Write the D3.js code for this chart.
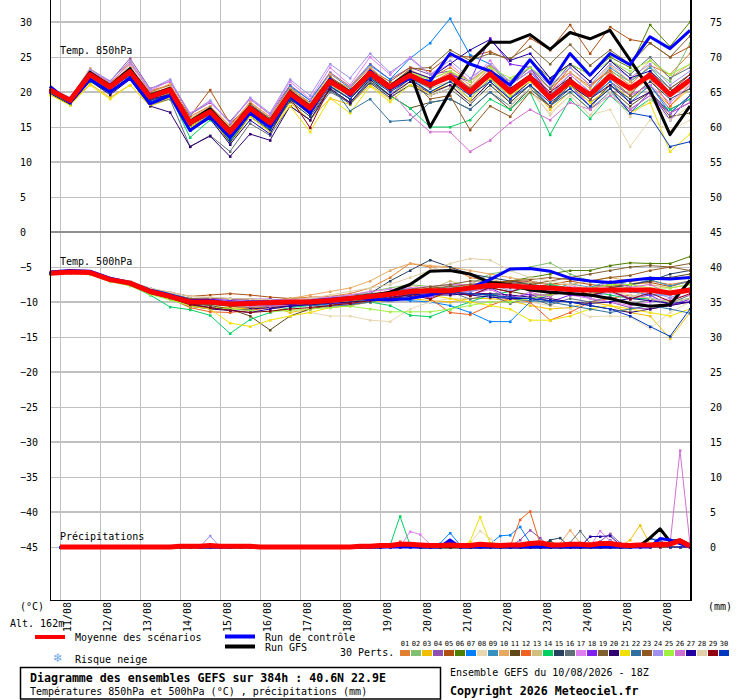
<!DOCTYPE html>
<html>
<head>
<meta charset="utf-8">
<script src="https://cdn.jsdelivr.net/npm/d3@7"></script>
<style>
body { margin: 0; background: #fff; }
svg { display: block; font-family: "DejaVu Sans Mono", monospace; }
</style>
</head>
<body>
<svg width="740" height="700"></svg>
<script>
// GEFS ensemble diagram - 850hPa / 500hPa temps + precip, 12h steps for temps, 6h for precip
var dateLabels = ["11/08", "12/08", "13/08", "14/08", "15/08", "16/08", "17/08", "18/08",
                  "19/08", "20/08", "21/08", "22/08", "23/08", "24/08", "25/08", "26/08"];
var dateHours = [6, 30, 54, 78, 102, 126, 150, 174, 198, 222, 246, 270, 294, 318, 342, 366];
var leftTicks = [30, 25, 20, 15, 10, 5, 0, -5, -10, -15, -20, -25, -30, -35, -40, -45];
var rightTicks = [75, 70, 65, 60, 55, 50, 45, 40, 35, 30, 25, 20, 15, 10, 5, 0];

var pertNames = ["01","02","03","04","05","06","07","08","09","10","11","12","13","14","15",
                 "16","17","18","19","20","21","22","23","24","25","26","27","28","29","30"];
var pertColors = ["#e08030","#80c070","#f0c000","#9050b0","#b05010","#508000","#0080ff","#e8d8b0",
                  "#3890c0","#e8a860","#604818","#f06020","#d0c080","#00d060","#284060","#607078",
                  "#e080f0","#8020f0","#806030","#300070","#f0e000","#3070a0","#905820","#a090f0",
                  "#a0f040","#d070d0","#2000a0","#e0d0a8","#900010","#0038c0"];

// T850 (deg C), every 12h from +0h
var t850Mean = [20.3,18.8,22.5,20.7,22.9,19.3,20.3,15.6,17.2,14.3,17.7,15.6,19.8,17.7,21.5,19.8,22.7,20.7,22.4,21.0,22.2,20.0,22.6,20.0,22.1,19.1,21.5,19.6,22.3,20.5,22.4,19.6,21.7];
var t850Ctrl = [20.8,18.5,21.8,20.0,22.0,18.3,19.5,14.5,16.5,13.5,17.0,15.0,19.5,17.0,21.8,19.5,23.0,20.5,22.0,21.5,25.5,24.0,23.0,21.0,24.6,21.2,25.5,22.4,25.5,23.9,27.9,26.2,28.8];
var t850Gfs = [20.4,18.9,22.8,20.9,23.3,19.5,20.5,15.8,17.6,14.5,17.9,15.8,20.0,17.9,21.7,20.0,22.9,20.9,22.8,15.0,20.0,24.3,27.1,27.1,28.2,26.1,28.5,27.6,28.8,24.6,20.3,13.9,18.0];
var t850Perts = [
  [20.0,18.6,22.9,21.2,24.2,20.2,21.0,16.5,18.0,15.2,18.5,16.5,20.8,18.2,22.0,20.5,23.5,21.0,23.0,22.0,23.5,21.5,23.8,21.0,23.0,20.5,22.8,20.8,23.2,21.0,23.8,22.5,25.5],
  [19.8,18.4,22.0,20.4,22.5,19.0,20.0,15.0,16.8,13.8,17.4,15.0,19.5,17.0,21.0,19.0,22.5,20.2,22.8,21.5,22.0,19.5,21.8,19.2,21.5,18.8,22.0,19.5,23.0,21.5,23.5,21.5,27.0],
  [19.6,18.2,21.2,19.2,21.0,18.0,19.0,14.8,16.5,13.0,16.5,14.3,18.5,16.0,19.1,18.2,21.0,19.0,21.5,20.0,21.0,18.5,21.5,18.5,21.0,17.5,20.0,17.5,21.5,19.0,20.8,18.0,20.5],
  [20.2,18.9,23.3,21.5,24.8,20.5,21.5,16.8,18.5,15.8,19.0,16.8,21.0,18.8,22.8,20.8,24.0,21.8,23.5,22.5,23.0,20.5,22.0,19.8,22.5,19.0,21.0,19.0,21.5,19.5,21.0,17.5,19.0],
  [20.4,19.0,23.0,21.3,23.5,20.0,21.0,16.5,20.3,15.5,18.0,16.0,20.5,18.5,22.0,20.0,23.2,21.5,23.5,23.0,25.2,25.0,25.8,24.5,27.7,26.0,29.6,25.5,29.3,27.5,27.0,25.0,26.5],
  [20.1,18.7,22.3,20.5,22.7,19.0,20.2,15.2,17.0,14.0,17.2,15.3,19.5,17.2,21.0,19.0,22.0,20.3,22.5,21.0,22.0,20.5,23.0,21.5,24.5,22.0,24.0,22.5,25.0,23.5,29.6,26.5,30.0],
  [20.0,18.5,22.2,20.4,22.6,19.2,20.1,15.6,17.5,14.6,18.2,16.2,20.8,18.8,22.6,20.6,23.8,21.8,24.8,27.0,30.5,25.3,24.0,21.0,23.0,19.5,22.0,19.0,21.5,18.5,21.0,17.0,19.5],
  [20.5,19.0,22.5,21.0,23.0,19.8,20.5,16.0,17.6,14.5,17.8,16.0,20.0,18.0,21.0,19.5,22.0,20.0,21.5,19.5,21.0,19.0,21.0,18.5,20.0,17.0,19.5,16.7,17.5,12.2,16.0,14.5,16.0],
  [20.2,18.8,22.6,20.8,23.2,19.5,20.6,15.8,17.0,14.2,17.5,15.4,19.6,17.3,21.3,19.6,22.6,20.4,22.0,20.0,21.5,19.0,22.0,19.5,22.0,19.5,22.5,20.0,23.5,21.5,23.5,20.5,22.5],
  [20.6,19.1,23.4,21.0,24.5,19.8,21.2,16.2,18.0,15.0,18.6,16.4,20.6,18.4,22.6,20.8,23.6,21.0,23.2,21.8,23.0,21.0,24.0,21.5,23.5,21.0,22.8,20.5,23.8,21.5,24.5,22.0,24.0],
  [20.0,18.6,22.0,20.3,22.5,18.8,19.8,15.0,16.6,13.5,17.0,14.8,19.0,16.8,20.5,18.5,21.5,19.5,17.7,18.5,19.0,17.5,20.0,17.5,20.5,18.0,21.0,18.5,20.5,18.0,20.0,16.5,17.0],
  [20.3,18.8,22.4,20.6,22.8,19.2,20.2,15.4,17.2,14.4,17.6,15.6,19.7,17.6,21.2,19.4,22.4,20.4,22.8,21.2,22.8,20.6,23.5,20.5,22.5,20.0,23.5,21.0,23.0,20.0,22.0,18.0,21.0],
  [20.6,19.2,22.8,21.0,23.8,19.6,20.8,16.2,17.6,14.8,18.0,16.0,19.8,18.0,21.8,20.3,22.4,20.3,22.2,20.5,21.5,20.0,22.5,20.5,22.0,19.5,21.5,19.8,22.0,20.0,22.0,19.5,21.0],
  [19.8,18.3,21.5,19.8,22.2,18.5,19.5,13.5,16.0,13.0,16.8,14.8,19.0,17.0,21.0,19.0,22.0,19.5,17.7,15.0,15.0,16.0,19.0,17.5,20.0,13.9,19.0,16.2,19.5,17.0,19.0,17.5,19.0],
  [20.2,18.7,22.4,20.5,22.4,18.8,19.6,14.6,16.4,12.8,16.5,14.5,18.7,16.5,20.3,18.3,21.3,19.2,21.0,19.5,20.5,18.2,21.0,18.5,21.0,18.0,20.5,18.0,21.0,19.0,21.5,19.0,20.5],
  [20.0,18.5,22.0,20.2,22.0,18.2,19.0,12.2,13.8,11.5,15.5,13.8,18.0,16.0,20.0,18.5,21.5,19.5,22.0,20.5,22.5,20.5,23.0,21.0,23.5,20.5,24.0,21.5,24.5,22.5,25.0,22.0,23.5],
  [20.5,19.1,23.0,21.4,24.0,20.2,21.6,17.0,18.6,15.6,19.0,16.8,21.5,19.0,23.5,21.0,25.0,22.5,25.0,22.5,24.0,21.5,24.5,21.0,23.0,20.0,22.5,20.0,22.0,19.5,21.0,18.5,21.0],
  [20.2,18.8,22.7,20.9,23.2,19.5,20.6,15.9,17.5,14.8,18.0,16.0,20.2,18.0,21.8,20.0,23.0,20.8,22.5,21.0,22.5,21.5,27.7,24.0,23.5,19.5,21.0,18.0,20.5,17.0,20.0,16.0,19.5],
  [20.4,18.9,22.6,20.8,23.0,19.4,20.4,15.7,17.3,14.4,17.8,15.7,19.9,17.8,21.7,19.9,22.9,20.9,23.3,23.5,26.0,24.5,25.5,24.8,26.5,24.0,26.8,23.8,26.0,24.0,27.0,25.0,28.0],
  [19.8,18.2,21.6,19.6,21.8,18.0,17.1,12.2,13.7,10.8,14.0,13.1,18.0,16.0,20.5,18.5,21.8,19.5,21.5,19.8,21.0,18.5,21.5,19.0,21.5,19.5,21.0,19.0,21.0,18.5,20.0,17.0,18.5],
  [19.6,18.1,21.0,19.0,21.0,18.2,19.2,15.0,16.6,12.5,16.5,14.3,18.0,14.3,19.1,17.0,20.8,18.6,21.0,19.8,21.5,19.0,22.0,19.5,21.5,19.0,21.0,18.5,20.5,17.0,18.5,11.5,14.0],
  [20.1,18.6,22.2,20.5,22.6,19.0,20.0,15.3,16.9,14.0,17.3,15.2,19.4,17.4,21.2,17.3,19.0,15.8,16.0,18.5,19.0,17.5,20.0,18.0,20.5,18.0,20.0,17.5,20.0,17.5,19.5,17.0,19.5],
  [20.3,18.9,22.8,21.0,23.4,19.8,20.6,16.0,17.8,14.8,18.3,16.2,20.3,18.2,22.2,20.2,23.0,20.5,22.0,19.0,19.5,14.6,18.0,16.5,20.0,18.0,21.5,19.0,22.0,19.5,23.0,20.5,22.5],
  [20.6,19.2,23.2,21.6,24.4,20.4,21.8,16.8,18.8,15.6,19.2,17.0,21.8,19.5,24.0,22.0,25.5,22.8,24.8,22.5,24.5,22.0,24.0,21.5,23.5,21.0,23.5,21.0,24.0,22.0,24.0,21.0,23.0],
  [20.2,18.7,22.5,20.6,22.7,19.1,20.2,15.5,17.0,14.0,17.4,15.3,19.5,17.5,21.4,19.7,22.5,20.6,22.8,21.8,23.0,21.5,23.5,22.0,23.5,21.5,24.0,22.5,24.5,23.0,24.5,22.5,24.0],
  [20.0,18.6,22.4,20.7,23.0,19.4,20.3,15.7,17.4,14.5,17.8,15.8,20.0,17.8,21.6,19.8,22.4,20.3,16.8,14.3,14.3,11.5,13.1,15.6,17.5,16.0,18.5,17.5,19.5,17.5,19.5,17.0,18.5],
  [20.1,18.6,22.3,20.5,22.6,19.0,19.6,14.5,16.2,12.5,16.0,14.0,19.2,17.0,21.3,19.5,22.8,20.7,23.0,22.0,24.0,26.0,27.5,24.5,25.5,22.0,24.0,21.5,24.5,22.0,23.0,20.0,22.0],
  [20.4,19.0,22.6,20.9,23.2,19.6,20.6,16.0,17.7,14.7,18.0,15.9,19.6,17.4,21.0,19.3,22.2,20.2,21.8,19.5,20.5,18.5,20.5,18.0,20.5,16.7,19.5,16.7,20.0,16.5,19.0,16.0,18.0],
  [20.3,18.9,22.6,20.8,23.0,19.2,20.0,15.4,16.8,14.0,17.2,15.2,19.2,14.9,20.8,19.0,22.2,20.2,22.0,20.8,22.0,20.0,23.0,20.5,22.5,20.0,22.0,19.5,22.5,20.5,22.5,20.0,22.5],
  [20.0,18.4,22.0,20.0,22.3,18.6,19.6,14.7,16.4,13.2,16.8,14.6,19.0,17.0,20.8,19.0,22.0,20.0,21.8,20.0,21.5,19.5,21.5,19.0,21.0,18.5,20.5,18.0,20.5,17.0,16.5,12.2,12.9]
];

// T500 (deg C), every 12h from +0h
var t500Mean = [-5.9,-5.7,-5.8,-6.8,-7.3,-8.5,-9.2,-10.0,-10.0,-10.3,-10.2,-10.1,-10.0,-10.0,-9.8,-9.5,-9.2,-8.9,-8.5,-8.4,-8.4,-8.0,-7.6,-7.7,-7.9,-8.0,-8.2,-8.3,-8.3,-8.3,-8.3,-8.7,-8.3];
var t500Ctrl = [-5.7,-5.5,-5.6,-6.6,-7.2,-8.3,-9.0,-9.8,-9.8,-10.2,-10.0,-10.0,-10.3,-9.9,-9.6,-9.4,-9.6,-9.7,-9.5,-9.0,-8.3,-8.0,-6.8,-5.3,-5.2,-5.6,-6.6,-7.0,-7.2,-6.9,-6.6,-6.7,-6.5];
var t500Gfs = [-5.8,-5.6,-5.7,-6.7,-7.4,-8.6,-9.3,-10.1,-10.1,-10.4,-10.3,-10.1,-10.1,-10.0,-9.8,-9.4,-9.1,-8.6,-7.5,-5.6,-5.5,-6.0,-7.2,-7.5,-8.3,-8.6,-8.8,-9.0,-9.5,-10.2,-10.6,-10.4,-6.9];
var t500Perts = [
  [-5.8,-5.6,-5.7,-6.7,-7.2,-8.3,-9.0,-9.8,-9.9,-10.4,-10.0,-9.8,-9.5,-9.3,-9.2,-8.8,-8.0,-6.5,-4.5,-5.0,-5.0,-6.5,-7.0,-7.5,-7.8,-8.2,-8.0,-8.5,-8.0,-7.5,-7.0,-7.5,-7.0],
  [-6.0,-5.8,-5.9,-6.9,-7.5,-8.6,-9.4,-10.2,-10.4,-10.6,-10.5,-10.3,-10.1,-9.9,-9.6,-9.0,-8.5,-8.0,-7.5,-7.8,-8.0,-7.5,-6.0,-5.5,-5.0,-4.4,-6.0,-7.0,-7.5,-8.0,-8.5,-8.8,-8.0],
  [-6.0,-5.8,-6.0,-7.0,-7.6,-8.8,-9.6,-10.5,-10.8,-10.8,-11.0,-10.6,-11.5,-11.0,-10.5,-10.2,-10.0,-9.5,-9.5,-9.8,-10.0,-9.5,-9.5,-9.8,-10.5,-11.0,-10.8,-10.0,-10.5,-11.5,-12.0,-15.2,-11.5],
  [-5.9,-5.7,-5.8,-6.8,-7.3,-8.4,-9.0,-9.6,-9.5,-9.6,-9.8,-9.9,-10.2,-10.5,-10.8,-10.5,-10.0,-9.8,-9.5,-9.0,-8.8,-8.5,-8.0,-7.5,-7.0,-7.5,-8.5,-9.5,-10.0,-10.8,-11.0,-10.5,-10.0],
  [-5.8,-5.6,-5.7,-6.6,-7.1,-8.1,-8.6,-9.2,-9.0,-8.8,-9.0,-9.3,-9.5,-9.6,-9.5,-9.3,-9.0,-8.8,-8.5,-8.2,-8.0,-7.8,-7.5,-7.0,-7.2,-7.5,-7.0,-7.5,-7.8,-7.5,-7.2,-7.8,-7.0],
  [-5.9,-5.8,-5.9,-6.9,-7.4,-8.6,-9.3,-10.1,-10.2,-10.5,-10.3,-10.2,-10.0,-10.0,-9.8,-9.6,-9.3,-9.0,-8.8,-8.5,-8.2,-8.0,-7.5,-7.0,-6.5,-6.0,-5.5,-5.5,-4.8,-4.4,-4.5,-4.5,-3.5],
  [-5.8,-5.6,-5.8,-6.7,-7.2,-8.0,-8.8,-9.5,-9.8,-10.0,-10.3,-10.5,-10.6,-10.5,-10.3,-10.0,-9.8,-9.5,-9.8,-10.0,-10.5,-11.5,-12.8,-12.8,-10.0,-9.0,-8.5,-8.0,-8.2,-8.5,-9.0,-9.0,-8.5],
  [-5.7,-5.5,-5.6,-6.5,-7.0,-8.2,-9.0,-9.8,-10.0,-10.3,-10.5,-10.8,-11.0,-11.5,-12.0,-12.0,-12.6,-12.8,-11.0,-10.0,-9.5,-9.5,-9.0,-9.5,-10.0,-10.5,-11.0,-12.1,-12.0,-12.1,-13.8,-11.5,-10.0],
  [-5.9,-5.7,-5.8,-6.8,-7.2,-8.3,-9.0,-9.6,-9.7,-10.0,-10.0,-9.8,-9.8,-9.7,-9.5,-9.2,-9.0,-8.8,-8.0,-8.6,-7.6,-8.3,-7.2,-8.0,-7.5,-8.4,-7.4,-7.9,-7.0,-7.6,-6.8,-7.7,-7.0],
  [-6.0,-5.8,-5.9,-6.9,-7.5,-8.7,-9.4,-10.4,-10.8,-11.0,-10.5,-10.0,-9.5,-9.0,-8.5,-8.0,-7.0,-5.5,-4.5,-4.8,-5.0,-5.5,-6.0,-6.5,-7.0,-7.5,-7.5,-7.0,-6.5,-7.0,-7.5,-8.0,-7.5],
  [-5.8,-5.7,-5.8,-6.8,-7.4,-8.6,-9.4,-10.3,-10.5,-11.0,-12.0,-14.0,-12.0,-11.0,-10.5,-10.0,-9.5,-9.0,-8.5,-8.5,-8.2,-8.0,-8.0,-8.5,-9.0,-9.0,-8.5,-8.0,-7.5,-7.0,-6.5,-6.5,-6.0],
  [-5.9,-5.7,-5.9,-6.9,-7.4,-8.6,-9.5,-10.8,-11.4,-11.5,-11.2,-10.8,-10.5,-10.3,-10.0,-9.5,-9.0,-8.5,-8.5,-9.5,-11.5,-11.8,-10.5,-9.5,-10.0,-12.6,-11.5,-10.0,-9.5,-9.0,-9.5,-10.0,-9.5],
  [-5.8,-5.6,-5.7,-6.7,-7.2,-8.4,-9.1,-9.9,-9.8,-10.0,-9.9,-9.8,-9.6,-9.5,-9.4,-9.2,-8.8,-8.5,-7.6,-8.2,-7.0,-7.8,-6.6,-7.6,-7.2,-8.3,-8.0,-8.9,-8.3,-9.4,-8.2,-8.9,-8.6],
  [-6.0,-5.9,-6.0,-7.0,-7.6,-9.0,-10.7,-11.1,-11.9,-14.5,-12.5,-11.5,-10.8,-10.5,-10.0,-9.8,-10.0,-10.5,-11.9,-12.1,-11.0,-10.0,-9.0,-8.5,-8.0,-7.5,-8.0,-8.5,-9.0,-9.5,-9.5,-10.0,-9.5],
  [-5.9,-5.7,-5.8,-6.8,-7.3,-8.5,-9.2,-10.0,-10.1,-10.3,-10.4,-10.3,-10.2,-10.0,-9.7,-9.3,-8.8,-7.0,-5.5,-4.0,-5.0,-6.0,-6.5,-7.0,-7.5,-7.8,-8.0,-8.2,-8.0,-7.5,-7.0,-6.0,-5.5],
  [-5.9,-5.7,-5.8,-6.8,-7.3,-8.4,-9.1,-9.9,-10.0,-10.2,-10.0,-9.9,-9.8,-9.6,-9.3,-9.0,-8.8,-8.6,-8.0,-9.1,-8.5,-9.6,-9.0,-10.2,-9.4,-10.4,-9.5,-10.0,-9.2,-10.4,-9.6,-10.2,-9.0],
  [-5.9,-5.7,-5.9,-6.9,-7.4,-8.5,-9.2,-9.9,-10.0,-10.2,-10.0,-9.8,-9.7,-9.5,-9.3,-9.0,-8.5,-8.2,-8.0,-7.8,-7.5,-7.5,-7.2,-7.5,-7.8,-8.5,-9.0,-9.5,-10.0,-10.5,-10.0,-9.5,-9.0],
  [-5.8,-5.6,-5.7,-6.7,-7.2,-8.3,-9.0,-9.7,-9.6,-9.8,-9.6,-9.6,-9.8,-10.0,-10.2,-10.3,-10.0,-9.5,-8.6,-9.4,-8.3,-9.0,-8.0,-9.3,-8.9,-10.0,-9.0,-9.2,-8.3,-9.5,-9.0,-10.5,-9.6],
  [-6.0,-5.8,-5.9,-6.9,-7.4,-8.6,-9.3,-10.2,-10.3,-10.6,-10.8,-10.6,-10.5,-10.3,-10.0,-9.6,-9.2,-8.8,-8.2,-7.8,-7.5,-7.0,-7.0,-7.2,-7.5,-7.0,-6.5,-6.0,-5.5,-5.0,-4.8,-5.0,-4.5],
  [-5.9,-5.8,-5.9,-6.9,-7.5,-8.7,-9.6,-10.6,-11.0,-11.2,-11.0,-10.8,-10.6,-10.4,-10.2,-10.0,-9.8,-9.5,-9.2,-9.0,-9.0,-8.8,-8.8,-9.0,-9.3,-9.5,-10.0,-10.5,-11.0,-11.5,-11.0,-10.5,-10.0],
  [-6.0,-5.9,-6.0,-7.0,-7.6,-8.8,-9.6,-10.6,-11.0,-13.0,-13.5,-12.6,-12.0,-11.5,-10.8,-10.5,-10.0,-9.8,-9.5,-9.0,-9.5,-10.0,-10.5,-11.0,-12.6,-12.6,-12.0,-11.0,-10.5,-11.0,-11.5,-12.0,-11.0],
  [-5.8,-5.6,-5.7,-6.7,-7.2,-8.3,-9.0,-9.8,-9.8,-10.0,-10.1,-10.2,-10.3,-10.5,-10.6,-10.4,-10.0,-9.5,-9.0,-8.5,-8.5,-8.8,-9.0,-9.5,-9.8,-10.0,-10.5,-11.0,-11.5,-11.0,-10.5,-11.0,-11.6],
  [-5.8,-5.6,-5.7,-6.6,-7.1,-8.2,-8.9,-9.5,-9.4,-9.5,-9.6,-9.8,-10.0,-10.0,-9.8,-9.5,-9.2,-9.0,-8.5,-8.0,-7.8,-7.5,-7.2,-7.0,-6.8,-6.5,-6.8,-7.0,-6.5,-6.2,-5.5,-5.0,-5.5],
  [-5.9,-5.7,-5.8,-6.8,-7.3,-8.4,-9.1,-9.8,-9.9,-10.1,-10.0,-10.0,-9.9,-9.8,-9.6,-9.3,-9.0,-8.8,-8.2,-9.0,-8.0,-8.6,-7.4,-8.4,-7.8,-8.9,-8.2,-9.3,-8.6,-9.6,-8.5,-9.4,-8.2],
  [-6.0,-5.9,-6.1,-7.1,-7.7,-8.9,-9.7,-10.5,-10.8,-11.0,-11.2,-11.4,-11.2,-11.0,-10.8,-10.6,-11.0,-11.4,-11.4,-11.4,-11.0,-10.5,-10.0,-10.0,-9.5,-9.0,-8.5,-8.0,-7.5,-7.5,-8.0,-8.0,-7.5],
  [-5.9,-5.7,-5.8,-6.8,-7.3,-8.5,-9.2,-10.0,-10.2,-10.4,-10.6,-10.6,-10.4,-10.2,-10.0,-9.7,-9.4,-9.0,-8.4,-9.2,-8.0,-9.0,-8.2,-9.5,-8.6,-9.3,-7.6,-8.4,-7.0,-7.9,-7.5,-8.9,-8.6],
  [-5.8,-5.6,-5.8,-6.8,-7.3,-8.5,-9.3,-10.3,-10.8,-11.2,-11.5,-11.0,-10.6,-10.3,-10.0,-9.7,-9.5,-9.3,-9.0,-8.8,-8.8,-9.0,-9.3,-9.5,-9.5,-9.8,-10.0,-10.2,-10.0,-9.5,-9.8,-10.2,-10.0],
  [-5.7,-5.5,-5.6,-6.6,-7.0,-8.0,-8.6,-9.2,-9.3,-9.5,-9.6,-9.7,-9.8,-9.5,-9.0,-8.5,-8.0,-7.5,-6.5,-5.5,-4.5,-3.8,-4.0,-5.5,-6.5,-7.0,-7.5,-8.0,-8.5,-9.0,-9.5,-10.0,-9.5],
  [-5.9,-5.7,-5.8,-6.8,-7.4,-8.6,-9.4,-10.4,-10.8,-11.2,-11.5,-11.3,-11.0,-10.8,-10.5,-10.2,-9.8,-9.5,-8.9,-9.6,-8.4,-9.1,-7.9,-8.6,-7.6,-8.7,-8.0,-9.0,-8.4,-9.6,-8.7,-9.9,-8.8],
  [-5.8,-5.6,-5.7,-6.7,-7.2,-8.3,-9.1,-9.9,-10.0,-10.2,-10.1,-10.0,-9.9,-9.8,-9.6,-9.4,-9.2,-9.0,-8.8,-8.6,-8.6,-8.8,-9.0,-9.3,-9.5,-9.8,-10.0,-10.5,-11.0,-12.0,-13.5,-14.9,-11.0]
];

// precipitation (mm / 6h), every 6h from +6h
var precipMean = [0,0,0,0,0,0,0,0,0,0,0,0, 0.1,0.1,0.1,0.2,0.1,0.1,0.1,0.1, 0,0,0,0,0,0,0,0,0,0,
                  0.1,0.1,0.2,0.2,0.4,0.4,0.3,0.2,0.2,0.3, 0.2,0.2,0.4,0.3,0.2,0.3,0.3,0.5,0.6,0.3,
                  0.3,0.4,0.4,0.3,0.5,0.5,0.3,0.2,0.3,0.3, 0.4,0.4,0.9,0.1];
var precipCtrl = [0,0,0,0,0,0,0,0,0,0,0,0, 0.1,0.1,0,0,0,0,0.1,0.1, 0,0,0,0,0,0,0,0,0,0,
                  0,0,0,0,0,0,0,0,0,1.0, 0,0,0,0,0,0,0,0,0,0,
                  0,0,0,0,0,0,0,0,0,0, 1.2,1.0,0.5,0];
var precipGfs = [0,0,0,0,0,0,0,0,0,0,0,0, 0,0,0,0,0,0,0,0, 0,0,0,0,0,0,0,0,0,0,
                 0,0,0,0.1,0.1,0.1,0,0,0,0, 0,0,0,0,0,0,0,0,0,0,
                 0,0,0,0,0,0,0,0,0.2,1.3, 2.6,0.8,1.0,0.3];
// perturbations: only the non-zero [hour, mm] entries
var precipPerts = [
  [[300,0.6],[306,0.4]],
  [[204,0.2]],
  [[348,1.0],[354,3.1],[360,0.4]],
  [[282,1.0],[288,2.4],[294,1.3],[330,0.8],[336,1.9],[342,0.6]],
  [],
  [[318,0.6]],
  [[234,0.5],[240,2.0],[246,0.3],[264,0.4],[270,1.6],[276,1.7],[282,2.9],[288,0.6]],
  [[252,0.5],[258,2.3],[264,1.2]],
  [[318,0.5]],
  [[306,0.5],[312,2.4],[318,0.6]],
  [[300,0.9]],
  [[210,0.8],[282,3.9],[288,5.1],[294,0.5]],
  [[324,0.4]],
  [[204,0.2],[210,4.4],[216,0.3]],
  [[300,1.0],[306,1.3]],
  [[312,0.6],[318,2.3],[324,0.5],[336,1.0]],
  [[216,2.2],[222,1.8],[228,0.4],[330,2.3],[336,0.9]],
  [[210,0.6],[312,0.4]],
  [[342,0.5]],
  [[366,0.3]],
  [[252,0.8],[258,4.3],[264,0.6]],
  [[360,1.2],[366,1.0]],
  [],
  [[96,1.6],[342,0.4]],
  [],
  [[372,0.3],[378,13.8],[384,0.4]],
  [[324,1.5],[330,1.5],[336,1.6],[342,0.3]],
  [[270,0.3]],
  [],
  [[240,0.7],[360,1.3],[366,0.6]]
];

var svg = d3.select("svg");

var x = d3.scaleLinear().domain([0, 384]).range([50, 690]);
var y = d3.scaleLinear().domain([-45, 30]).range([547, 22]);
var yP = d3.scaleLinear().domain([0, 75]).range([547, 22]);

// grid
var grid = svg.append("g").attr("shape-rendering", "crispEdges");
grid.selectAll("line.v").data(dateHours).enter().append("line")
    .attr("x1", function(d) { return x(d) + 0.5; })
    .attr("x2", function(d) { return x(d) + 0.5; })
    .attr("y1", 0).attr("y2", 600)
    .attr("stroke", "#c0c0c0").attr("stroke-width", 1);
grid.selectAll("line.h").data(leftTicks).enter().append("line")
    .attr("x1", 50).attr("x2", 690)
    .attr("y1", function(d) { return d % 10 === 0 ? y(d) : y(d) + 0.5; })
    .attr("y2", function(d) { return d % 10 === 0 ? y(d) : y(d) + 0.5; })
    .attr("stroke", function(d) { return d === 0 ? "#909090" : "#c0c0c0"; })
    .attr("stroke-width", function(d) { return d % 10 === 0 ? 2 : 1; });

// panel titles
var titles = [["Temp. 850hPa", 54], ["Temp. 500hPa", 265], ["Précipitations", 540]];
svg.selectAll("text.panel").data(titles).enter().append("text")
    .attr("x", 60).attr("y", function(d) { return d[1]; })
    .attr("font-size", 10).text(function(d) { return d[0]; });

var line12 = d3.line()
    .x(function(d, i) { return x(i * 12); })
    .y(function(d) { return y(d); });
var line6 = d3.line()
    .x(function(d, i) { return x(6 + i * 6); })
    .y(function(d) { return yP(d); });

var precipPertSeries = precipPerts.map(function(list) {
    var arr = d3.range(64).map(function() { return 0; });
    list.forEach(function(p) { arr[p[0] / 6 - 1] = p[1]; });
    return arr;
});

function drawPert(g, data, lineFn, hStep, hStart, yFn, color) {
    g.append("path").datum(data)
        .attr("d", lineFn)
        .attr("fill", "none")
        .attr("stroke", color)
        .attr("stroke-width", 1);
    g.selectAll(null).data(data).enter().append("rect")
        .attr("x", function(d, i) { return x(hStart + i * hStep) - 1; })
        .attr("y", function(d) { return yFn(d) - 1; })
        .attr("width", 2.5).attr("height", 2.5)
        .attr("fill", color);
}

var pertG = svg.append("g");
pertColors.forEach(function(c, k) {
    drawPert(pertG, precipPertSeries[k], line6, 6, 6, yP, c);
});
pertColors.forEach(function(c, k) {
    drawPert(pertG, t500Perts[k], line12, 12, 0, y, c);
});
pertColors.forEach(function(c, k) {
    drawPert(pertG, t850Perts[k], line12, 12, 0, y, c);
});

function drawMain(data, lineFn, color, width) {
    svg.append("path").datum(data)
        .attr("d", lineFn)
        .attr("fill", "none")
        .attr("stroke", color)
        .attr("stroke-width", width)
        .attr("stroke-linejoin", "round");
}
drawMain(t850Gfs, line12, "#000000", 3);
drawMain(t500Gfs, line12, "#000000", 3);
drawMain(precipGfs, line6, "#000000", 3);
drawMain(t850Ctrl, line12, "#0000ff", 3);
drawMain(t500Ctrl, line12, "#0000ff", 3);
drawMain(precipCtrl, line6, "#0000ff", 3);
drawMain(t850Mean, line12, "#ff0000", 5);
drawMain(t500Mean, line12, "#ff0000", 5);
drawMain(precipMean, line6, "#ff0000", 5);

// frame
var frame = svg.append("g").attr("shape-rendering", "crispEdges");
frame.append("line").attr("x1", 50.5).attr("x2", 50.5).attr("y1", 0).attr("y2", 600)
    .attr("stroke", "#000").attr("stroke-width", 1);
frame.append("line").attr("x1", 691).attr("x2", 691).attr("y1", 0).attr("y2", 601)
    .attr("stroke", "#000").attr("stroke-width", 2);
frame.append("line").attr("x1", 50).attr("x2", 692).attr("y1", 600.5).attr("y2", 600.5)
    .attr("stroke", "#000").attr("stroke-width", 1);

// axes labels
var axL = svg.append("g").attr("transform", "translate(20,0)")
    .call(d3.axisLeft(y).tickValues(leftTicks).tickSize(0));
axL.select(".domain").remove();
axL.selectAll("text").attr("x", 0).attr("text-anchor", "start");
axL.attr("font-family", "DejaVu Sans Mono").attr("font-size", 10);

var axR = svg.append("g").attr("transform", "translate(710,0)")
    .call(d3.axisRight(yP).tickValues(rightTicks).tickSize(0));
axR.select(".domain").remove();
axR.selectAll("text").attr("x", 0).attr("text-anchor", "start");
axR.attr("font-family", "DejaVu Sans Mono").attr("font-size", 10);

var axB = svg.append("g").attr("transform", "translate(0,600)")
    .call(d3.axisBottom(x).tickValues(dateHours).tickSize(0)
        .tickFormat(function(d, i) { return dateLabels[i]; }));
axB.select(".domain").remove();
axB.selectAll("text")
    .attr("transform", "rotate(-90)")
    .attr("text-anchor", "end")
    .attr("x", -2).attr("y", 10).attr("dy", null);
axB.attr("font-family", "DejaVu Sans Mono").attr("font-size", 10);

svg.append("text").attr("x", 20).attr("y", 610).attr("font-size", 10).text("(°C)");
svg.append("text").attr("x", 10).attr("y", 627).attr("font-size", 10).text("Alt. 162m");
svg.append("text").attr("x", 708).attr("y", 610).attr("font-size", 10).text("(mm)");

// legend
var leg = svg.append("g").attr("font-size", 10);
leg.append("rect").attr("x", 35).attr("y", 635).attr("width", 30).attr("height", 4).attr("fill", "#ff0000");
leg.append("text").attr("x", 75).attr("y", 641).text("Moyenne des scénarios");
leg.append("rect").attr("x", 225).attr("y", 634.5).attr("width", 30).attr("height", 4).attr("fill", "#0000ff");
leg.append("text").attr("x", 265).attr("y", 641).text("Run de contrôle");
leg.append("rect").attr("x", 225).attr("y", 644.5).attr("width", 30).attr("height", 4).attr("fill", "#000000");
leg.append("text").attr("x", 265).attr("y", 650.5).text("Run GFS");
leg.append("text").attr("x", 53).attr("y", 662).attr("font-family", "DejaVu Sans")
    .attr("font-size", 12).attr("fill", "#70a8e8").text("❄");
leg.append("text").attr("x", 75).attr("y", 663).text("Risque neige");
leg.append("text").attr("x", 340).attr("y", 656).text("30 Perts.");

var sw = svg.append("g");
sw.selectAll("rect").data(pertColors).enter().append("rect")
    .attr("x", function(d, i) { return 400 + i * 11; })
    .attr("y", 650).attr("width", 10).attr("height", 6)
    .attr("fill", function(d) { return d; });
sw.selectAll("text").data(pertNames).enter().append("text")
    .attr("x", function(d, i) { return 405 + i * 11; })
    .attr("y", 646).attr("text-anchor", "middle")
    .attr("font-size", 7).text(function(d) { return d; });

// title box
svg.append("rect").attr("x", 20.5).attr("y", 667.5).attr("width", 420).attr("height", 31.5)
    .attr("fill", "none").attr("stroke", "#000").attr("stroke-width", 1.5);
svg.append("text").attr("x", 30).attr("y", 681.5).attr("font-size", 11.6).attr("font-weight", "bold")
    .text("Diagramme des ensembles GEFS sur 384h : 40.6N 22.9E");
svg.append("text").attr("x", 30).attr("y", 694.5).attr("font-size", 10)
    .text("Températures 850hPa et 500hPa (°C) , précipitations (mm)");
svg.append("text").attr("x", 450).attr("y", 676).attr("font-size", 10)
    .text("Ensemble GEFS du 10/08/2026 - 18Z");
svg.append("text").attr("x", 450).attr("y", 695).attr("font-size", 11.6).attr("font-weight", "bold")
    .text("Copyright 2026 Meteociel.fr");
</script>
</body>
</html>
